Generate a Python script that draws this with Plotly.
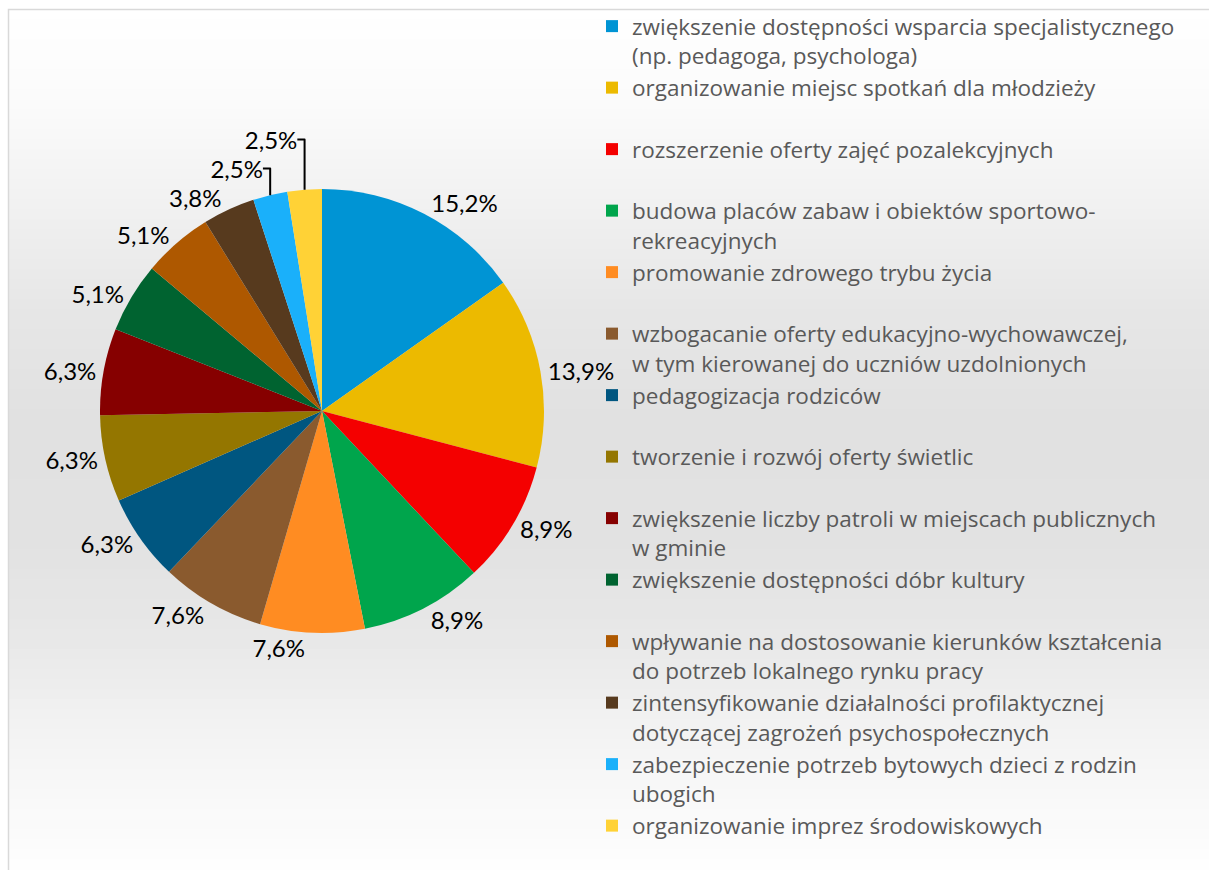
import plotly.graph_objects as go

# ---- data ----
labels = [
    "zwiększenie dostępności wsparcia specjalistycznego<br>(np. pedagoga, psychologa)",
    "organizowanie miejsc spotkań dla młodzieży<br>\u00a0",
    "rozszerzenie oferty zajęć pozalekcyjnych<br>\u00a0",
    "budowa placów zabaw i obiektów sportowo-<br>rekreacyjnych",
    "promowanie zdrowego trybu życia<br>\u00a0",
    "wzbogacanie oferty edukacyjno-wychowawczej,<br>w tym kierowanej do uczniów uzdolnionych",
    "pedagogizacja rodziców<br>\u00a0",
    "tworzenie i rozwój oferty świetlic<br>\u00a0",
    "zwiększenie liczby patroli w miejscach publicznych<br>w gminie",
    "zwiększenie dostępności dóbr kultury<br>\u00a0",
    "wpływanie na dostosowanie kierunków kształcenia<br>do potrzeb lokalnego rynku pracy",
    "zintensyfikowanie działalności profilaktycznej<br>dotyczącej zagrożeń psychospołecznych",
    "zabezpieczenie potrzeb bytowych dzieci z rodzin<br>ubogich",
    "organizowanie imprez środowiskowych",
]
values = [15.2, 13.9, 8.9, 8.9, 7.6, 7.6, 6.3, 6.3, 6.3, 5.1, 5.1, 3.8, 2.5, 2.5]
colors = [
    "#0094D4", "#ECBA00", "#F40000", "#00A54C", "#FF8C22", "#8A5A2E", "#005680",
    "#947600", "#860000", "#006330", "#AE5800", "#573A1E", "#1AB0FA", "#FFD236",
]

W, H = 1209, 870

# background gradient (white -> light gray -> white), drawn as stacked bands
stops = [(9, 255), (100, 251), (200, 241), (300, 231), (420, 225), (540, 226),
         (640, 232), (740, 244), (870, 254)]


def gray_at(y):
    for (y0, g0), (y1, g1) in zip(stops[:-1], stops[1:]):
        if y0 <= y <= y1:
            return g0 + (g1 - g0) * (y - y0) / (y1 - y0)
    return stops[-1][1]


shapes = []
band = 10
y = 9
while y < H:
    g = int(round(gray_at(y + band / 2)))
    shapes.append(dict(type="rect", xref="paper", yref="paper",
                       x0=8 / W, x1=1.0, y0=1 - min(y + band + 1, H) / H, y1=1 - y / H,
                       fillcolor=f"rgb({g},{g},{g})", line=dict(width=0), layer="below"))
    y += band
shapes.append(dict(type="rect", xref="paper", yref="paper",
                   x0=8.5 / W, x1=1.02, y0=-0.02, y1=1 - 9.5 / H,
                   line=dict(color="#D9D9D9", width=1.5), fillcolor="rgba(0,0,0,0)",
                   layer="below"))

cx, cy, r = 322, 411, 222

fig = go.Figure(go.Pie(
    labels=labels,
    values=values,
    sort=False,
    direction="clockwise",
    rotation=0,
    marker=dict(colors=colors, line=dict(width=0)),
    texttemplate="%{percent:.1%}",
    textposition="outside",
    textfont=dict(family="Lato", size=24, color="#000000"),
    domain=dict(x=[(cx - r) / W, (cx + r) / W], y=[1 - (cy + r) / H, 1 - (cy - r) / H]),
    showlegend=True,
))

fig.update_layout(
    width=W, height=H,
    margin=dict(l=0, r=0, t=0, b=0),
    paper_bgcolor="white",
    plot_bgcolor="white",
    separators=", ",
    shapes=shapes,
    legend=dict(
        x=592 / W, xanchor="left",
        y=1 - 5 / H, yanchor="top",
        valign="top",
        font=dict(family="Open Sans", size=22.5, color="#595959"),
        bgcolor="rgba(0,0,0,0)",
    ),
)

fig.write_html("out.html", config={"displayModeBar": False},
               post_script="document.body.style.margin='0';")
